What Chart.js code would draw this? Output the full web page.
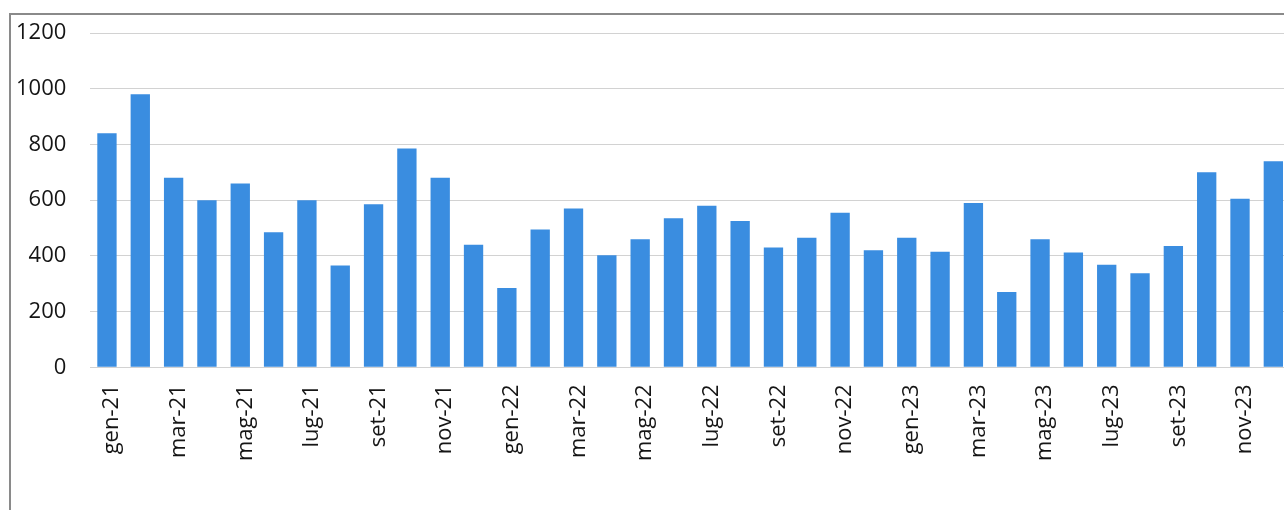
<!DOCTYPE html>
<html lang="it">
<head>
    <meta charset="UTF-8">
    <title>Grafico mensile</title>
</head>
<body>
    <div class="cornice"></div>
    <canvas id="barChart" width="1300" height="510"></canvas>

    <script src="https://cdn.jsdelivr.net/npm/chart.js"></script>
    <script>
        // Etichette dei mesi (gen-21 ... dic-23)
        const mesi = ["gen", "feb", "mar", "apr", "mag", "giu", "lug", "ago", "set", "ott", "nov", "dic"];
        const anni = ["21", "22", "23"];
        const labels = [];
        anni.forEach(a => mesi.forEach(m => labels.push(m + "-" + a)));

        // Valori
        const valori2021 = [840, 980, 680, 600, 660, 485, 600, 365, 585, 785, 680, 440];
        const valori2022 = [285, 495, 570, 402, 460, 535, 580, 525, 430, 465, 555, 420];
        const valori2023 = [465, 415, 590, 270, 460, 412, 368, 338, 435, 700, 605, 740];
        const valori = [...valori2021, ...valori2022, ...valori2023];

        // Asse Y
        const yMin = 0;
        const yMax = 1200;
        const yStep = 200;

        const font = { family: "'Open Sans', sans-serif", size: 22 };

        const ctx = document.getElementById("barChart").getContext("2d");

        const barChart = new Chart(ctx, {
            type: "bar",
            data: {
                labels: labels,
                datasets: [{
                    data: valori,
                    backgroundColor: "#3a8de0",
                    borderWidth: 0,
                    barPercentage: 0.58,
                    categoryPercentage: 1
                }]
            },
            options: {
                responsive: false,
                animation: false,
                layout: { padding: { top: 33, right: 10, bottom: 0, left: 0 } },
                plugins: {
                    legend: { display: false },
                    tooltip: { enabled: false }
                },
                scales: {
                    x: {
                        grid: { display: false, drawTicks: false },
                        border: { display: false },
                        ticks: {
                            autoSkip: false,
                            minRotation: 90,
                            maxRotation: 90,
                            padding: 17,
                            labelOffset: 5,
                            color: "#151515",
                            font: font,
                            // una etichetta ogni due mesi
                            callback: (v, i) => i % 2 === 0 ? labels[i] : ""
                        },
                        afterFit: (scale) => {
                            scale.height = 142.7;
                            scale.paddingRight = 0;
                            scale.paddingLeft = 0;
                        }
                    },
                    y: {
                        min: yMin,
                        max: yMax,
                        grid: { color: "#d2d2d2", lineWidth: 1, drawTicks: false },
                        border: { display: false },
                        ticks: {
                            stepSize: yStep,
                            padding: 24,
                            color: "#151515",
                            font: font,
                            callback: (v) => String(v)
                        },
                        afterFit: (scale) => {
                            scale.width = 90.3;
                            scale.paddingTop = 0;
                            scale.paddingBottom = 0;
                        }
                    }
                }
            }
        });
    </script>

<style>
    body {
        margin: 0;
        background: #ffffff;
        overflow: hidden;
        width: 1284px;
        height: 510px;
    }

    /* Il grafico continua oltre il bordo destro */
    #barChart {
        position: absolute;
        left: 0;
        top: 0;
    }

    /* Bordo dell'area grafico */
    .cornice {
        position: absolute;
        left: 9px;
        top: 13px;
        width: 1400px;
        height: 600px;
        border-left: 2px solid #8a8a8a;
        border-top: 2px solid #8a8a8a;
        pointer-events: none;
        z-index: 2;
    }
</style>
</body>
</html>
